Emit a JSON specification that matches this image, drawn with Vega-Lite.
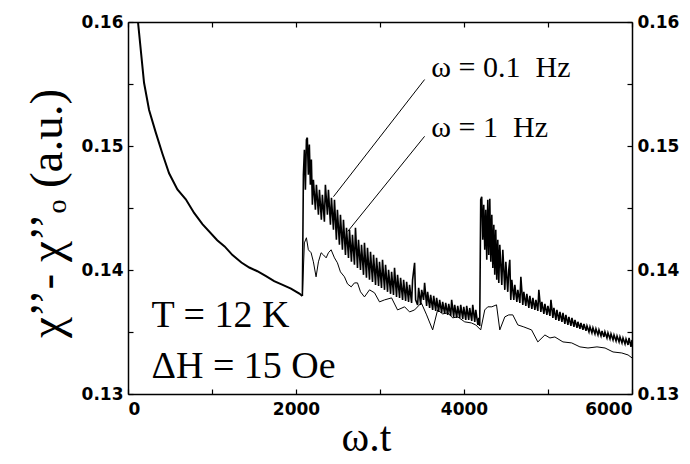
{
  "$schema": "https://vega.github.io/schema/vega-lite/v6.json",
  "width": 504,
  "height": 372,
  "autosize": {"type": "none"},
  "padding": {"left": 128, "top": 22, "right": 58, "bottom": 70},
  "background": "white",
  "config": {
    "view": {"stroke": null},
    "axis": {
      "grid": false,
      "domainColor": "black",
      "domainWidth": 1.5,
      "tickColor": "black",
      "tickWidth": 1.2,
      "tickSize": -5,
      "labelColor": "black",
      "titleColor": "black",
      "labelFont": "DejaVu Sans",
      "labelFontWeight": "bold",
      "labelFontSize": 17,
      "titleFont": "Liberation Serif",
      "titleFontWeight": "normal",
      "titleFontSize": 44
    }
  },
  "datasets": {
    "base": [
      {"t": 60, "v": 0.166}, {"t": 119, "v": 0.16}, {"t": 191, "v": 0.1551}, {"t": 251, "v": 0.1529},
      {"t": 330, "v": 0.1511}, {"t": 409, "v": 0.1494}, {"t": 489, "v": 0.1478}, {"t": 588, "v": 0.1465},
      {"t": 688, "v": 0.1457}, {"t": 787, "v": 0.1446}, {"t": 886, "v": 0.1437}, {"t": 1062, "v": 0.1424},
      {"t": 1150, "v": 0.1419}, {"t": 1244, "v": 0.1412}, {"t": 1350, "v": 0.1406}, {"t": 1444, "v": 0.1402},
      {"t": 1540, "v": 0.1399}, {"t": 1643, "v": 0.1395}, {"t": 1740, "v": 0.1391}, {"t": 1841, "v": 0.1388},
      {"t": 1940, "v": 0.1385}, {"t": 2040, "v": 0.1381}, {"t": 2076, "v": 0.1379}
    ],
    "hz1": [
      {"t": 2076, "v": 0.13791}, {"t": 2100, "v": 0.14219}, {"t": 2124, "v": 0.1426}, {"t": 2147, "v": 0.14163},
      {"t": 2180, "v": 0.14139}, {"t": 2207, "v": 0.14066}, {"t": 2239, "v": 0.13945}, {"t": 2267, "v": 0.14066},
      {"t": 2299, "v": 0.14139}, {"t": 2326, "v": 0.14122}, {"t": 2359, "v": 0.14098}, {"t": 2386, "v": 0.14139},
      {"t": 2418, "v": 0.14163}, {"t": 2458, "v": 0.14098}, {"t": 2493, "v": 0.14058}, {"t": 2529, "v": 0.13985},
      {"t": 2577, "v": 0.13945}, {"t": 2613, "v": 0.13888}, {"t": 2657, "v": 0.13864}, {"t": 2696, "v": 0.13896},
      {"t": 2732, "v": 0.13896}, {"t": 2768, "v": 0.13824}, {"t": 2815, "v": 0.13783}, {"t": 2875, "v": 0.1384},
      {"t": 2935, "v": 0.13816}, {"t": 2994, "v": 0.13743}, {"t": 3054, "v": 0.13759}, {"t": 3138, "v": 0.13775},
      {"t": 3209, "v": 0.13678}, {"t": 3293, "v": 0.13703}, {"t": 3352, "v": 0.13662}, {"t": 3412, "v": 0.13678},
      {"t": 3492, "v": 0.13735}, {"t": 3555, "v": 0.13638}, {"t": 3627, "v": 0.13517}, {"t": 3686, "v": 0.13678},
      {"t": 3746, "v": 0.13646}, {"t": 3806, "v": 0.13654}, {"t": 3865, "v": 0.13614}, {"t": 3925, "v": 0.13622},
      {"t": 4008, "v": 0.13582}, {"t": 4088, "v": 0.13573}, {"t": 4140, "v": 0.13557}, {"t": 4199, "v": 0.13517},
      {"t": 4247, "v": 0.13678}, {"t": 4283, "v": 0.13703}, {"t": 4331, "v": 0.13703}, {"t": 4387, "v": 0.13719},
      {"t": 4426, "v": 0.13517}, {"t": 4486, "v": 0.13622}, {"t": 4533, "v": 0.13638}, {"t": 4581, "v": 0.13638},
      {"t": 4641, "v": 0.13557}, {"t": 4712, "v": 0.13541}, {"t": 4804, "v": 0.13517}, {"t": 4879, "v": 0.1342},
      {"t": 4963, "v": 0.13476}, {"t": 5023, "v": 0.13452}, {"t": 5082, "v": 0.1346}, {"t": 5178, "v": 0.1342},
      {"t": 5282, "v": 0.13412}, {"t": 5380, "v": 0.1338}, {"t": 5476, "v": 0.13371}, {"t": 5583, "v": 0.1338},
      {"t": 5679, "v": 0.13371}, {"t": 5774, "v": 0.13339}, {"t": 5878, "v": 0.13331}, {"t": 5953, "v": 0.13315},
      {"t": 6000, "v": 0.13291}
    ],
    "hz01": [
      {"t": 2076, "v": 0.13791}, {"t": 2088, "v": 0.14768}, {"t": 2100, "v": 0.1497}, {"t": 2112, "v": 0.14647},
      {"t": 2124, "v": 0.15051}, {"t": 2135, "v": 0.15067}, {"t": 2147, "v": 0.14768}, {"t": 2159, "v": 0.15011},
      {"t": 2171, "v": 0.14688}, {"t": 2183, "v": 0.1489}, {"t": 2195, "v": 0.14526}, {"t": 2207, "v": 0.14728},
      {"t": 2231, "v": 0.14486}, {"t": 2243, "v": 0.14688}, {"t": 2267, "v": 0.14445}, {"t": 2279, "v": 0.14647},
      {"t": 2302, "v": 0.14405}, {"t": 2314, "v": 0.14607}, {"t": 2338, "v": 0.14389}, {"t": 2350, "v": 0.14688},
      {"t": 2374, "v": 0.14445}, {"t": 2386, "v": 0.14647}, {"t": 2410, "v": 0.14365}, {"t": 2422, "v": 0.14583},
      {"t": 2446, "v": 0.14324}, {"t": 2458, "v": 0.14567}, {"t": 2481, "v": 0.14244}, {"t": 2493, "v": 0.14486},
      {"t": 2517, "v": 0.14203}, {"t": 2529, "v": 0.14445}, {"t": 2553, "v": 0.14163}, {"t": 2565, "v": 0.14405},
      {"t": 2589, "v": 0.14122}, {"t": 2601, "v": 0.1434}, {"t": 2625, "v": 0.14098}, {"t": 2637, "v": 0.14324},
      {"t": 2660, "v": 0.14066}, {"t": 2672, "v": 0.14284}, {"t": 2696, "v": 0.14042}, {"t": 2708, "v": 0.1434},
      {"t": 2732, "v": 0.14017}, {"t": 2744, "v": 0.14244}, {"t": 2768, "v": 0.14001}, {"t": 2780, "v": 0.14203},
      {"t": 2804, "v": 0.13961}, {"t": 2815, "v": 0.14219}, {"t": 2839, "v": 0.13937}, {"t": 2851, "v": 0.14179},
      {"t": 2875, "v": 0.13921}, {"t": 2887, "v": 0.14147}, {"t": 2911, "v": 0.13904}, {"t": 2923, "v": 0.14122},
      {"t": 2947, "v": 0.1388}, {"t": 2959, "v": 0.14098}, {"t": 2983, "v": 0.13872}, {"t": 2994, "v": 0.14066},
      {"t": 3018, "v": 0.13856}, {"t": 3030, "v": 0.14082}, {"t": 3054, "v": 0.1384}, {"t": 3066, "v": 0.14042},
      {"t": 3090, "v": 0.13824}, {"t": 3102, "v": 0.14001}, {"t": 3126, "v": 0.13808}, {"t": 3138, "v": 0.13985},
      {"t": 3161, "v": 0.13799}, {"t": 3173, "v": 0.14017}, {"t": 3197, "v": 0.13783}, {"t": 3209, "v": 0.13961},
      {"t": 3233, "v": 0.13775}, {"t": 3245, "v": 0.13937}, {"t": 3269, "v": 0.13759}, {"t": 3281, "v": 0.13921},
      {"t": 3305, "v": 0.13751}, {"t": 3317, "v": 0.13904}, {"t": 3340, "v": 0.13743}, {"t": 3352, "v": 0.1388},
      {"t": 3376, "v": 0.13735}, {"t": 3388, "v": 0.13921}, {"t": 3412, "v": 0.14058}, {"t": 3424, "v": 0.13759},
      {"t": 3448, "v": 0.13719}, {"t": 3460, "v": 0.13856}, {"t": 3484, "v": 0.13719}, {"t": 3496, "v": 0.1384},
      {"t": 3519, "v": 0.13759}, {"t": 3531, "v": 0.13896}, {"t": 3555, "v": 0.13711}, {"t": 3567, "v": 0.13824},
      {"t": 3591, "v": 0.13694}, {"t": 3603, "v": 0.13799}, {"t": 3627, "v": 0.13678}, {"t": 3639, "v": 0.13791},
      {"t": 3663, "v": 0.1367}, {"t": 3674, "v": 0.13775}, {"t": 3698, "v": 0.13662}, {"t": 3710, "v": 0.13759},
      {"t": 3734, "v": 0.13654}, {"t": 3746, "v": 0.13743}, {"t": 3770, "v": 0.13646}, {"t": 3782, "v": 0.13735},
      {"t": 3806, "v": 0.13638}, {"t": 3818, "v": 0.13727}, {"t": 3842, "v": 0.1363}, {"t": 3853, "v": 0.13759},
      {"t": 3877, "v": 0.13622}, {"t": 3889, "v": 0.13719}, {"t": 3913, "v": 0.13614}, {"t": 3925, "v": 0.13711},
      {"t": 3949, "v": 0.13614}, {"t": 3961, "v": 0.13719}, {"t": 3985, "v": 0.13606}, {"t": 3997, "v": 0.13703},
      {"t": 4021, "v": 0.13598}, {"t": 4032, "v": 0.13711}, {"t": 4056, "v": 0.13598}, {"t": 4068, "v": 0.13694},
      {"t": 4092, "v": 0.1359}, {"t": 4104, "v": 0.13719}, {"t": 4128, "v": 0.13582}, {"t": 4140, "v": 0.13678},
      {"t": 4165, "v": 0.13557}, {"t": 4177, "v": 0.13614}, {"t": 4187, "v": 0.13549}, {"t": 4199, "v": 0.14567},
      {"t": 4211, "v": 0.14591}, {"t": 4223, "v": 0.14244}, {"t": 4235, "v": 0.14526}, {"t": 4247, "v": 0.14163},
      {"t": 4259, "v": 0.14486}, {"t": 4271, "v": 0.14082}, {"t": 4283, "v": 0.14567}, {"t": 4295, "v": 0.14122},
      {"t": 4307, "v": 0.14575}, {"t": 4319, "v": 0.14066}, {"t": 4331, "v": 0.14445}, {"t": 4343, "v": 0.14017},
      {"t": 4355, "v": 0.14365}, {"t": 4366, "v": 0.13961}, {"t": 4378, "v": 0.14324}, {"t": 4390, "v": 0.13921},
      {"t": 4402, "v": 0.14244}, {"t": 4414, "v": 0.13896}, {"t": 4426, "v": 0.14203}, {"t": 4450, "v": 0.1388},
      {"t": 4462, "v": 0.14163}, {"t": 4486, "v": 0.1384}, {"t": 4498, "v": 0.14066}, {"t": 4521, "v": 0.13824},
      {"t": 4533, "v": 0.14001}, {"t": 4545, "v": 0.14082}, {"t": 4557, "v": 0.13759}, {"t": 4569, "v": 0.13921},
      {"t": 4593, "v": 0.13759}, {"t": 4605, "v": 0.1388}, {"t": 4629, "v": 0.13743}, {"t": 4641, "v": 0.1384},
      {"t": 4665, "v": 0.13735}, {"t": 4677, "v": 0.13945}, {"t": 4700, "v": 0.13719}, {"t": 4712, "v": 0.13824},
      {"t": 4736, "v": 0.13711}, {"t": 4748, "v": 0.13808}, {"t": 4772, "v": 0.13694}, {"t": 4784, "v": 0.13791},
      {"t": 4808, "v": 0.13686}, {"t": 4820, "v": 0.13775}, {"t": 4844, "v": 0.13678}, {"t": 4856, "v": 0.13759},
      {"t": 4879, "v": 0.1367}, {"t": 4891, "v": 0.1384}, {"t": 4915, "v": 0.13662}, {"t": 4927, "v": 0.13743},
      {"t": 4951, "v": 0.13646}, {"t": 4963, "v": 0.13727}, {"t": 4987, "v": 0.13638}, {"t": 4999, "v": 0.13711},
      {"t": 5023, "v": 0.1363}, {"t": 5035, "v": 0.13759}, {"t": 5058, "v": 0.13614}, {"t": 5070, "v": 0.13694},
      {"t": 5094, "v": 0.13598}, {"t": 5106, "v": 0.13678}, {"t": 5130, "v": 0.1359}, {"t": 5142, "v": 0.13662},
      {"t": 5166, "v": 0.13582}, {"t": 5178, "v": 0.13654}, {"t": 5201, "v": 0.13565}, {"t": 5213, "v": 0.13638},
      {"t": 5237, "v": 0.13557}, {"t": 5249, "v": 0.13622}, {"t": 5273, "v": 0.13549}, {"t": 5285, "v": 0.13614},
      {"t": 5309, "v": 0.13541}, {"t": 5321, "v": 0.13598}, {"t": 5345, "v": 0.13533}, {"t": 5356, "v": 0.13582},
      {"t": 5380, "v": 0.13525}, {"t": 5392, "v": 0.13573}, {"t": 5416, "v": 0.13517}, {"t": 5428, "v": 0.13565},
      {"t": 5452, "v": 0.13509}, {"t": 5464, "v": 0.13549}, {"t": 5488, "v": 0.13501}, {"t": 5500, "v": 0.13541},
      {"t": 5523, "v": 0.13493}, {"t": 5535, "v": 0.13533}, {"t": 5559, "v": 0.13485}, {"t": 5571, "v": 0.13525},
      {"t": 5595, "v": 0.13476}, {"t": 5607, "v": 0.13517}, {"t": 5631, "v": 0.13468}, {"t": 5643, "v": 0.13509},
      {"t": 5666, "v": 0.1346}, {"t": 5678, "v": 0.13501}, {"t": 5702, "v": 0.13452}, {"t": 5714, "v": 0.13493},
      {"t": 5738, "v": 0.13444}, {"t": 5750, "v": 0.13485}, {"t": 5774, "v": 0.13436}, {"t": 5786, "v": 0.13476},
      {"t": 5810, "v": 0.13428}, {"t": 5822, "v": 0.13468}, {"t": 5846, "v": 0.1342}, {"t": 5857, "v": 0.1346},
      {"t": 5881, "v": 0.13412}, {"t": 5893, "v": 0.13452}, {"t": 5917, "v": 0.13404}, {"t": 5929, "v": 0.13444},
      {"t": 5953, "v": 0.13396}, {"t": 5965, "v": 0.13452}, {"t": 5988, "v": 0.1338}, {"t": 6000, "v": 0.13436}
    ],
    "leaders": [
      {"t": 2446, "v": 0.14591, "t2": 3531, "v2": 0.15536},
      {"t": 2616, "v": 0.14311, "t2": 3531, "v2": 0.15078}
    ],
    "freqlabels": [
      {"t": 3611, "v": 0.15632, "label": "ω = 0.1\u00a0 Hz"},
      {"t": 3611, "v": 0.15148, "label": "ω = 1\u00a0 Hz"}
    ],
    "params": [
      {"t": 280, "v": 0.13541, "label": "T = 12 K"},
      {"t": 280, "v": 0.13129, "label": "ΔH = 15 Oe"}
    ]
  },
  "layer": [
    {
      "data": {"name": "hz1"},
      "mark": {"type": "line", "color": "black", "strokeWidth": 1, "clip": true},
      "encoding": {
        "x": {
          "field": "t", "type": "quantitative",
          "scale": {"domain": [0, 6000], "nice": false, "zero": false},
          "axis": {
            "orient": "bottom", "values": [0, 1000, 2000, 3000, 4000, 5000, 6000],
            "labelExpr": "datum.value % 2000 == 0 ? format(datum.value, 'd') : ''",
            "labelPadding": 12, "title": "ω.t", "titlePadding": 0, "titleFontSize": 42,
            "titleX": 238, "titleAlign": "center"
          }
        },
        "y": {
          "field": "v", "type": "quantitative",
          "scale": {"domain": [0.13, 0.16], "nice": false, "zero": false},
          "axis": {
            "orient": "left", "values": [0.13, 0.135, 0.14, 0.145, 0.15, 0.155, 0.16],
            "labelExpr": "round(datum.value * 1000) % 10 == 0 ? format(datum.value, '.2f') : ''",
            "labelPadding": 10, "title": "χ’’- χ’’ₒ (a.u.)", "titlePadding": 10,
            "titleFontSize": 47, "titleY": 191, "titleAlign": "center"
          }
        }
      }
    },
    {
      "data": {"name": "hz01"},
      "mark": {"type": "line", "color": "black", "strokeWidth": 1.6, "clip": true},
      "encoding": {
        "x": {
          "field": "t", "type": "quantitative",
          "axis": {"orient": "top", "values": [0, 1000, 2000, 3000, 4000, 5000, 6000], "labels": false, "title": null}
        },
        "y": {
          "field": "v", "type": "quantitative",
          "axis": {
            "orient": "right", "values": [0.13, 0.135, 0.14, 0.145, 0.15, 0.155, 0.16],
            "labelExpr": "round(datum.value * 1000) % 10 == 0 ? format(datum.value, '.2f') : ''",
            "labelPadding": 10, "title": null
          }
        }
      }
    },
    {
      "data": {"name": "base"},
      "mark": {"type": "line", "color": "black", "strokeWidth": 2, "clip": true},
      "encoding": {
        "x": {"field": "t", "type": "quantitative", "axis": null},
        "y": {"field": "v", "type": "quantitative", "axis": null}
      }
    },
    {
      "data": {"name": "leaders"},
      "mark": {"type": "rule", "color": "black", "strokeWidth": 1},
      "encoding": {
        "x": {"field": "t", "type": "quantitative", "axis": null},
        "y": {"field": "v", "type": "quantitative", "axis": null},
        "x2": {"field": "t2"},
        "y2": {"field": "v2"}
      }
    },
    {
      "data": {"name": "freqlabels"},
      "mark": {"type": "text", "font": "Liberation Serif", "fontSize": 30, "align": "left", "baseline": "middle", "color": "black"},
      "encoding": {
        "x": {"field": "t", "type": "quantitative", "axis": null},
        "y": {"field": "v", "type": "quantitative", "axis": null},
        "text": {"field": "label"}
      }
    },
    {
      "data": {"name": "params"},
      "mark": {"type": "text", "font": "Liberation Serif", "fontSize": 38, "align": "left", "baseline": "alphabetic", "color": "black"},
      "encoding": {
        "x": {"field": "t", "type": "quantitative", "axis": null},
        "y": {"field": "v", "type": "quantitative", "axis": null},
        "text": {"field": "label"}
      }
    }
  ],
  "resolve": {"axis": {"x": "independent", "y": "independent"}}
}
